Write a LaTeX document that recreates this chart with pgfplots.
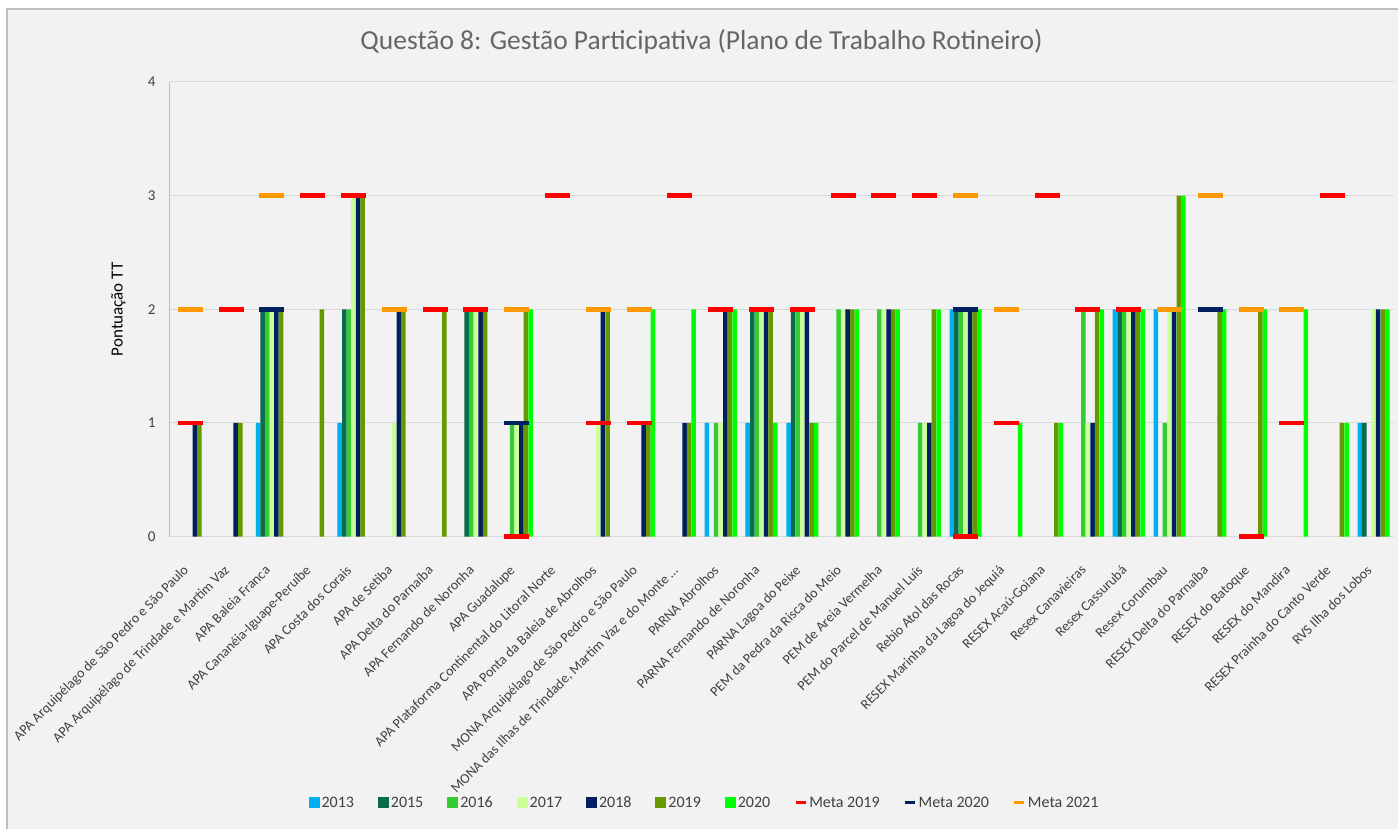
\documentclass[border=0pt]{standalone}
\usepackage{pgfplots}
\pgfplotsset{compat=1.18}
\usepackage{fontspec}
\setmainfont{Carlito}
\definecolor{cA}{HTML}{00B0F0}
\definecolor{cB}{HTML}{0B6B4B}
\definecolor{cC}{HTML}{33CC33}
\definecolor{cD}{HTML}{CCFF99}
\definecolor{cE}{HTML}{002060}
\definecolor{cF}{HTML}{669900}
\definecolor{cG}{HTML}{00FF00}
\definecolor{mA}{HTML}{FF0000}
\definecolor{mB}{HTML}{002060}
\definecolor{mC}{HTML}{FF9900}
\definecolor{bgc}{HTML}{F2F2F2}
\definecolor{gridc}{HTML}{D9D9D9}
\definecolor{txt}{HTML}{404040}
\pgfplotsset{
  yr/.style={ybar, bar width=4.5pt, bar shift=#1, draw=none,
    legend image code/.code={\fill[##1] (0pt,-5pt) rectangle (11pt,6pt);}},
  meta/.style={only marks, mark=-, mark size=12.5pt,
    mark options={line width=4.5pt, draw=#1},
    legend image code/.code={\draw[#1, line width=3pt] (0pt,0pt) -- (10pt,0pt);}},
}
\begin{document}
\begin{tikzpicture}
\fill[white] (0,0) rectangle (1399pt,830pt);
\fill[bgc] (7pt,0pt) rectangle (1399pt,821pt);
\draw[black!25, line width=2pt] (7pt,0pt) -- (7pt,821pt) -- (1399pt,821pt);
\node[text=black!60, font=\fontsize{27.5}{31}\selectfont] at (702pt,788pt)
  {Questão 8: Gestão Participativa (Plano de Trabalho Rotineiro)};
\begin{axis}[
  at={(170pt,293pt)}, anchor=south west,
  scale only axis, width=1225pt, height=455pt,
  xmin=0.5, xmax=30.5, ymin=0, ymax=4,
  ytick={0,1,2,3,4}, xtick={1,2,3,4,5,6,7,8,9,10,11,12,13,14,15,16,17,18,19,20,21,22,23,24,25,26,27,28,29,30},
  axis line style={draw=black!25, line width=1pt},
  axis x line*=bottom, axis y line*=left,
  x axis line style={draw=gridc},
  major tick length=0pt,
  ymajorgrids, grid style={gridc, line width=1pt},
  tick label style={text=txt},
  /pgf/number format/assume math mode=true,
  yticklabel style={font=\fontsize{15}{17}\selectfont, xshift=-11pt},
  xticklabel shift=16pt,
  xticklabel style={font=\fontsize{14}{16}\selectfont, xshift=-8pt, yshift=-10pt, rotate=45, anchor=north east, inner sep=1pt},
  xticklabels={APA Arquipélago de São Pedro e São Paulo,
    APA Arquipélago de Trindade e Martim Vaz,
    APA Baleia Franca,
    APA Cananéia-Iguape-Peruíbe,
    APA Costa dos Corais,
    APA de Setiba,
    APA Delta do Parnaíba,
    APA Fernando de Noronha,
    APA Guadalupe,
    APA Plataforma Continental do Litoral Norte,
    APA Ponta da Baleia de Abrolhos,
    MONA Arquipélago de São Pedro e São Paulo,
    {MONA das Ilhas de Trindade, Martim Vaz e do Monte \ldots},
    PARNA Abrolhos,
    PARNA Fernando de Noronha,
    PARNA Lagoa do Peixe,
    PEM da Pedra da Risca do Meio,
    PEM de Areia Vermelha,
    PEM do Parcel de Manuel Luís,
    Rebio Atol das Rocas,
    RESEX Marinha da Lagoa do Jequiá,
    RESEX Acaú-Goiana,
    Resex Canavieiras,
    Resex Cassurubá,
    Resex Corumbau,
    RESEX Delta do Parnaíba,
    RESEX do Batoque,
    RESEX do Mandira,
    RESEX Prainha do Canto Verde,
    RVS Ilha dos Lobos},
  ylabel={Pontuação TT},
  every axis y label/.style={at={(axis description cs:-0.042,0.5)}, rotate=90, anchor=center,
    font=\fontsize{17}{19}\selectfont, text=black},
  legend columns=10,
  legend style={at={(axis description cs:0.4367,-0.585)}, anchor=center,
    draw=none, fill=none, font=\fontsize{16}{18}\selectfont, text=txt,
    /tikz/every even column/.append style={column sep=22pt}},
  clip=false,
]
% 2013
\addplot[yr=-13.8pt, fill=cA] coordinates {(3,1) (5,1) (14,1) (15,1) (16,1) (20,2) (24,2) (25,2) (30,1)};
\addlegendentry{2013}
% 2015
\addplot[yr=-9.2pt, fill=cB] coordinates {(3,2) (5,2) (8,2) (15,2) (16,2) (20,2) (24,2) (30,1)};
\addlegendentry{2015}
% 2016
\addplot[yr=-4.6pt, fill=cC] coordinates {(3,2) (5,2) (8,2) (9,1) (14,1) (15,2) (16,2) (17,2) (18,2) (19,1) (20,2) (23,2) (24,2) (25,1)};
\addlegendentry{2016}
% 2017
\addplot[yr=0pt, fill=cD] coordinates {(3,2) (5,3) (6,1) (8,2) (9,1) (11,1) (14,1) (15,2) (16,2) (17,2) (18,2) (19,1) (20,2) (23,1) (24,2) (25,2) (30,2)};
\addlegendentry{2017}
% 2018
\addplot[yr=4.6pt, fill=cE] coordinates {(1,1) (2,1) (3,2) (5,3) (6,2) (8,2) (9,1) (11,2) (12,1) (13,1) (14,2) (15,2) (16,2) (17,2) (18,2) (19,1) (20,2) (23,1) (24,2) (25,2) (30,2)};
\addlegendentry{2018}
% 2019
\addplot[yr=9.2pt, fill=cF] coordinates {(1,1) (2,1) (3,2) (4,2) (5,3) (6,2) (7,2) (8,2) (9,2) (11,2) (12,1) (13,1) (14,2) (15,2) (16,1) (17,2) (18,2) (19,2) (20,2) (22,1) (23,2) (24,2) (25,3) (26,2) (27,2) (29,1) (30,2)};
\addlegendentry{2019}
% 2020
\addplot[yr=13.8pt, fill=cG] coordinates {(9,2) (12,2) (13,2) (14,2) (15,1) (16,1) (17,2) (18,2) (19,2) (20,2) (21,1) (22,1) (23,2) (24,2) (25,3) (26,2) (27,2) (28,2) (29,1) (30,2)};
\addlegendentry{2020}
% metas
\addplot[meta=mA] coordinates {(1,1) (2,2) (3,2) (4,3) (5,3) (7,2) (8,2) (9,0) (10,3) (11,1) (12,1) (13,3) (14,2) (15,2) (16,2) (17,3) (18,3) (19,3) (20,0) (21,1) (22,3) (23,2) (24,2) (26,2) (27,0) (28,1) (29,3)};
\addlegendentry{Meta 2019}
\addplot[meta=mB] coordinates {(3,2) (9,1) (20,2) (26,2)};
\addlegendentry{Meta 2020}
\addplot[meta=mC] coordinates {(1,2) (3,3) (6,2) (9,2) (11,2) (12,2) (20,3) (21,2) (25,2) (26,3) (27,2) (28,2)};
\addlegendentry{Meta 2021}
\end{axis}
\end{tikzpicture}
\end{document}
